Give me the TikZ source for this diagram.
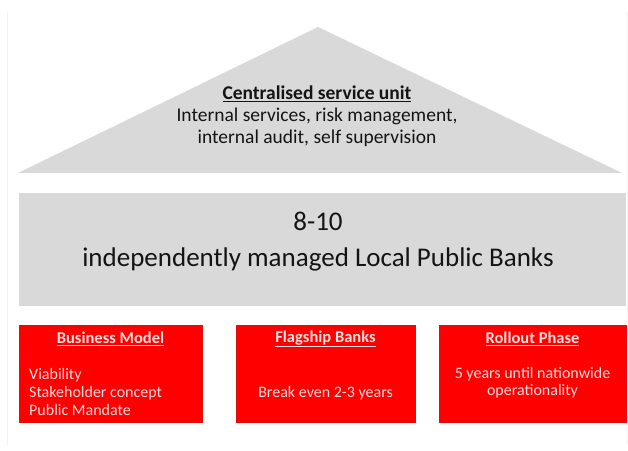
\documentclass[tikz,border=0pt]{standalone}
\usepackage{fontspec}
\setmainfont{Carlito}
\definecolor{panelgray}{HTML}{D9D9D9}
\definecolor{boxred}{HTML}{FF0000}
\definecolor{boxedge}{HTML}{D81010}
\definecolor{boxtext}{HTML}{F8DEDE}
\definecolor{inktext}{HTML}{141414}
\definecolor{faintline}{HTML}{F2F2F2}
\tikzset{
  roof/.style={fill=panelgray, draw=none},
  slab/.style={fill=panelgray, draw=none},
  redbox/.style={fill=boxred, draw=boxedge, line width=0.8pt},
  rooftext/.style={text=inktext, align=center, inner sep=0pt, font=\fontsize{19.5}{22}\selectfont},
  slabtext/.style={text=inktext, align=center, inner sep=0pt, font=\fontsize{27}{36}\selectfont},
  redtitle/.style={text=boxtext, inner sep=0pt, font=\fontsize{16.5}{18}\selectfont\bfseries},
  redbody/.style={text=boxtext, inner sep=0pt, font=\fontsize{16}{18}\selectfont},
}
\begin{document}
\begin{tikzpicture}[x=1pt,y=-1pt]
\useasboundingbox (0,0) rectangle (628,450);
\fill[white] (0,0) rectangle (628,450);
% faint page edges
\draw[faintline, line width=0.8pt] (7,12) -- (7,445);
\draw[faintline, line width=0.8pt] (627,12) -- (627,445);
% roof
\fill[roof] (18,173) -- (318,27) -- (622,173) -- cycle;
\node[rooftext] (rooft) at (317,116) {\textbf{\underline{Centralised service unit}}\\Internal services, risk management,\\internal audit, self supervision};
% slab
\path[slab] (19,193) rectangle (626,306);
\node[slabtext] (slabt) at (318,242) {8-10\\independently managed Local Public Banks};
% red boxes
\draw[redbox] (19,325) rectangle (202,422);
\draw[redbox] (236,325) rectangle (415,422);
\draw[redbox] (439,325) rectangle (626,422);
\node[redtitle] (t1) at (110.5,339) {\underline{Business Model}};
\node[redtitle] (t2) at (325.5,339) {\underline{Flagship Banks}};
\node[redtitle] (t3) at (532.5,339) {\underline{Rollout Phase}};
\node[redbody, align=left, anchor=west] (b1) at (29,392) {Viability\\Stakeholder concept\\Public Mandate};
\node[redbody] (b2) at (325.5,393) {Break even 2-3 years};
\node[redbody, align=center, font=\fontsize{16}{17}\selectfont] (b3) at (532.5,383) {5 years until nationwide\\operationality};
\end{tikzpicture}
\end{document}
